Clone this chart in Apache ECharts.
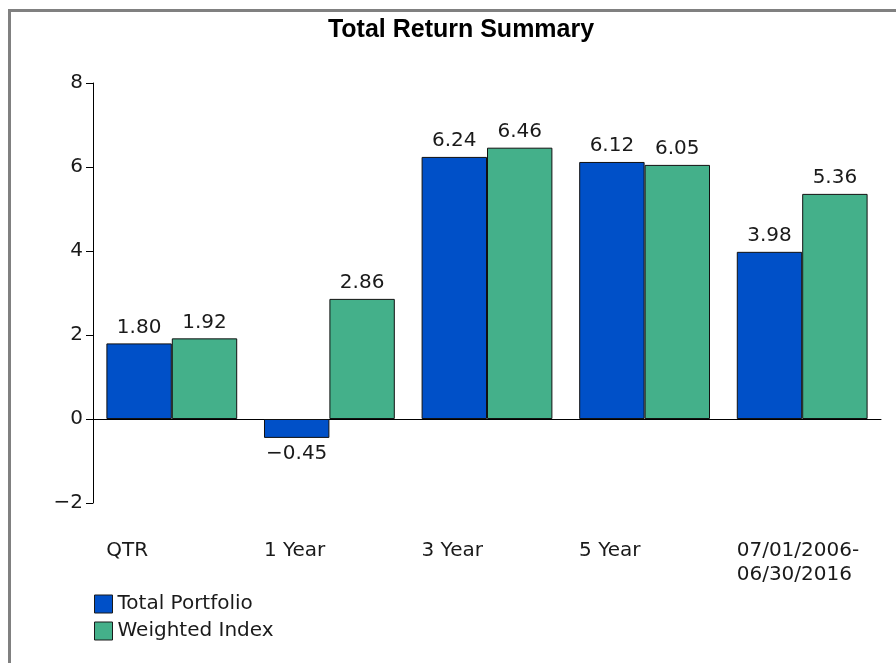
<!DOCTYPE html>
<html>
<head>
<meta charset="utf-8">
<script src="https://cdn.jsdelivr.net/npm/echarts@6/dist/echarts.min.js"></script>
<style>
  html, body { margin: 0; padding: 0; background: #fff; overflow: hidden; }
  #frame { position: absolute; left: 8px; top: 9px; width: 1000px; height: 800px; border: 3px solid #808080; box-sizing: border-box; }
  #chart { position: absolute; left: 0; top: 0; width: 896px; height: 663px; }
</style>
</head>
<body>
<div id="frame"></div>
<div id="chart"></div>
<script>
const categories = ["QTR", "1 Year", "3 Year", "5 Year", "07/01/2006-\n06/30/2016"];
const totalPortfolio = [1.80, -0.45, 6.24, 6.12, 3.98];
const weightedIndex = [1.92, 2.86, 6.46, 6.05, 5.36];
const yTicks = { min: -2, max: 8, step: 2 };

const FONT = "DejaVu Sans";
const INK = "#1a1a1a";

// negative bars get their label underneath
const toData = arr => arr.map(v => v < 0 ? { value: v, label: { position: "bottom" } } : v);
const fmtNum = v => (v < 0 ? "\u2212" : "") + Math.abs(v).toFixed(2);

const chart = echarts.init(document.getElementById("chart"));

const barLabel = {
  show: true,
  position: "top",
  distance: 6,
  fontFamily: FONT,
  fontSize: 20,
  color: INK,
  formatter: p => fmtNum(p.value)
};

chart.setOption({
  animation: false,
  title: {
    text: "Total Return Summary",
    left: 461,
    textAlign: "center",
    top: 18,
    padding: 0,
    textStyle: { fontFamily: "Liberation Sans", fontWeight: "bold", fontSize: 25, color: "#000" }
  },
  legend: {
    orient: "vertical",
    left: 94,
    top: 594,
    padding: 0,
    itemWidth: 18,
    itemHeight: 18,
    itemGap: 7,
    icon: "rect",
    itemStyle: { borderColor: INK, borderWidth: 1 },
    textStyle: { fontFamily: FONT, fontSize: 20, color: INK },
    data: ["Total Portfolio", "Weighted Index"]
  },
  grid: { left: 93, right: 15, top: 83, bottom: 160 },
  xAxis: [
    {
      type: "category",
      data: categories,
      axisLine: { onZero: true, lineStyle: { color: "#000", width: 1 } },
      axisTick: { show: false },
      axisLabel: { show: false }
    },
    {
      type: "category",
      data: categories,
      position: "bottom",
      axisLine: { show: false, onZero: false },
      axisTick: { show: false },
      axisLabel: {
        margin: 36,
        interval: 0,
        formatter: v => v.split("\n").map(l => "{a|" + l + "}").join("\n"),
        rich: {
          a: { width: 131, align: "left", fontFamily: FONT, fontSize: 20, lineHeight: 24, color: INK }
        }
      }
    }
  ],
  yAxis: {
    type: "value",
    min: yTicks.min,
    max: yTicks.max,
    interval: yTicks.step,
    axisLine: { show: true, lineStyle: { color: "#000", width: 1 } },
    axisTick: { show: true, length: 7, lineStyle: { color: "#000" } },
    splitLine: { show: false },
    axisLabel: {
      margin: 10,
      fontFamily: FONT,
      fontSize: 20,
      color: INK,
      formatter: v => (v < 0 ? "\u2212" : "") + Math.abs(v)
    }
  },
  series: [
    {
      name: "Total Portfolio",
      type: "bar",
      xAxisIndex: 0,
      data: toData(totalPortfolio),
      barGap: "0%",
      barCategoryGap: "17%",
      itemStyle: { color: "#0050C8", borderColor: "#111", borderWidth: 1 },
      label: barLabel
    },
    {
      name: "Weighted Index",
      type: "bar",
      xAxisIndex: 0,
      data: toData(weightedIndex),
      barGap: "0%",
      barCategoryGap: "17%",
      itemStyle: { color: "#44B08A", borderColor: "#111", borderWidth: 1 },
      label: barLabel
    }
  ]
});
</script>
</body>
</html>
